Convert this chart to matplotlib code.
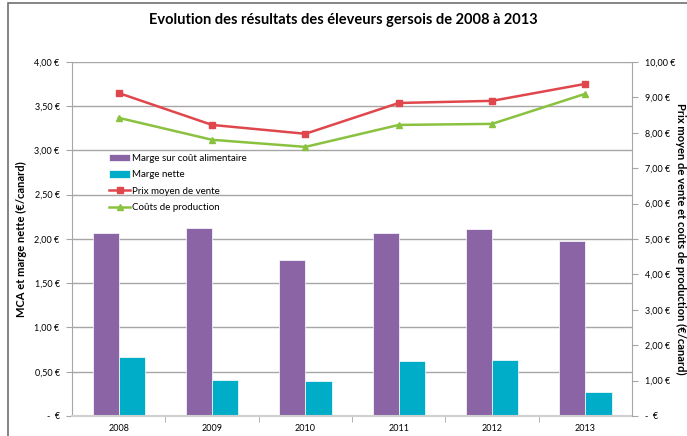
import matplotlib
matplotlib.use("Agg")
import matplotlib.pyplot as plt
import numpy as np
from matplotlib.patches import Rectangle
from matplotlib.ticker import FuncFormatter

plt.rcParams["font.family"] = ["Lato", "DejaVu Sans"]

years = ["2008", "2009", "2010", "2011", "2012", "2013"]
mca = [2.07, 2.12, 1.76, 2.07, 2.11, 1.98]
marge_nette = [0.67, 0.41, 0.40, 0.62, 0.63, 0.27]
prix_vente = [9.12, 8.22, 7.97, 8.84, 8.90, 9.38]
couts_prod = [8.42, 7.80, 7.60, 8.22, 8.25, 9.10]

PURPLE = "#8b64a6"
CYAN = "#00adc8"
RED = "#e0474c"
GREEN = "#8ac240"
GRID = "#a6a6a6"


def euro(v, _pos=None):
    if abs(v) < 1e-9:
        return "-  €"
    return f"{v:.2f}".replace(".", ",") + " €"


fig = plt.figure(figsize=(6.87, 4.36), dpi=100)
# outer frame, cut off on the right and bottom like the source screenshot
fig.patches.append(Rectangle((0.011, -0.02), 1.05, 1.013, transform=fig.transFigure,
                             fill=False, edgecolor="#6f6f6f", lw=1.2))
ax = fig.add_axes([0.105, 0.046, 0.815, 0.812])
x = np.arange(len(years))
w = 0.28
ax.bar(x - w / 2, mca, w, color=PURPLE, edgecolor="#ffffff", lw=0.5,
       label="Marge sur coût alimentaire", zorder=2)
ax.bar(x + w / 2, marge_nette, w, color=CYAN, edgecolor="#ffffff", lw=0.5,
       label="Marge nette", zorder=2)
ax.set_xlim(-0.5, len(years) - 0.5)
ax.set_ylim(0, 4)
ax.set_yticks(np.arange(0, 4.01, 0.5))
ax.yaxis.set_major_formatter(FuncFormatter(euro))
ax.yaxis.grid(True, color=GRID, lw=1)
ax.set_axisbelow(True)
ax.set_xticks(x)
ax.set_xticklabels(years)
ax.set_xticks(np.arange(0.5, len(years) - 0.5, 1), minor=True)
ax.tick_params(axis="x", which="major", length=0, labelsize=6.5, pad=6)
ax.tick_params(axis="x", which="minor", length=4, color=GRID, direction="out")
ax.tick_params(axis="y", labelsize=6.5, length=4, color=GRID, pad=5)
for s in ["top", "right"]:
    ax.spines[s].set_visible(False)
ax.spines["left"].set_color(GRID)
ax.spines["bottom"].set_color("#d0d0d0")
ax.spines["bottom"].set_linewidth(1.5)
fig.text(0.032, 0.046 + 0.812 / 2, "MCA et marge nette (€/canard)",
         fontsize=8, fontweight="bold", rotation=90, ha="center", va="center")

ax2 = ax.twinx()
ax2.plot(x, prix_vente, color=RED, lw=1.8, marker="s", ms=5, label="Prix moyen de vente")
ax2.plot(x, couts_prod, color=GREEN, lw=1.8, marker="^", ms=5, label="Coûts de production")
ax2.set_ylim(0, 10)
ax2.set_yticks(np.arange(0, 10.01, 1))
ax2.yaxis.set_major_formatter(FuncFormatter(euro))
ax2.tick_params(axis="y", labelsize=6.5, length=4, color=GRID, pad=5)
for s in ["top", "left", "bottom"]:
    ax2.spines[s].set_visible(False)
ax2.spines["right"].set_color(GRID)
fig.text(0.99, 0.046 + 0.812 / 2, "Prix moyen de vente et coûts de production (€/canard)",
         fontsize=8, fontweight="bold", rotation=-90, ha="center", va="center")

h1, l1 = ax.get_legend_handles_labels()
h2, l2 = ax2.get_legend_handles_labels()
ax2.legend(h1 + h2, l1 + l2, loc="upper left", bbox_to_anchor=(0.05, 0.765),
           frameon=False, fontsize=7, handlelength=2.2, handleheight=0.8,
           labelspacing=0.75, handletextpad=0.2)

fig.text(0.5, 0.955, "Evolution des résultats des éleveurs gersois de 2008 à 2013",
         ha="center", va="center", fontsize=10.5, fontweight="bold")

fig.savefig("out.png", dpi=100)
